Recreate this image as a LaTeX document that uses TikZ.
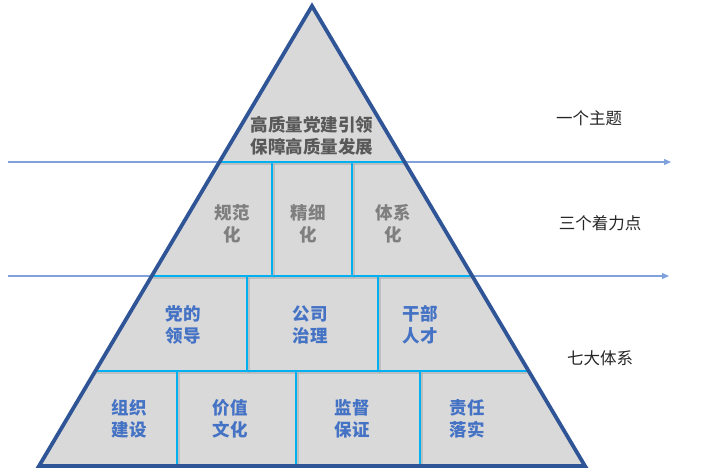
\documentclass[tikz,border=0pt]{standalone}
\usepackage{fontspec}
\newfontfamily\cjk{Noto Sans CJK SC}
\usetikzlibrary{arrows.meta}
\definecolor{trifill}{HTML}{D9D9D9}
\definecolor{edgec}{HTML}{2F5597}
\definecolor{divc}{HTML}{00B0F0}
\definecolor{arrc}{HTML}{7FA2DD}
\definecolor{toptxt}{HTML}{595959}
\definecolor{midtxt}{HTML}{7F7F7F}
\definecolor{lowtxt}{HTML}{4472C4}
\begin{document}
\begin{tikzpicture}[x=1pt,y=-1pt,
  cell/.style={font=\cjk\bfseries\fontsize{17.5}{22}\selectfont, align=center, inner sep=0pt},
  toplabel/.style={cell, text=toptxt},
  midlabel/.style={cell, text=midtxt},
  lowlabel/.style={cell, text=lowtxt},
  sidelabel/.style={font=\cjk\fontsize{16.5}{20}\selectfont, text=black!85, inner sep=0pt},
  divline/.style={draw=divc, line width=2.6pt},
  divshadow/.style={draw=black!35, line width=2pt, opacity=0.5},
  arrline/.style={draw=arrc, line width=1.2pt, -{Triangle[length=7pt,width=6pt]}}
]
\useasboundingbox (0,0) rectangle (725,476);

% arrows (behind the pyramid)
\coordinate (a1s) at (8,162);
\coordinate (a1e) at (671,162);
\coordinate (a2s) at (8,276);
\coordinate (a2e) at (669,276);
\draw[arrline] (a1s) -- (a1e);
\draw[arrline] (a2s) -- (a2e);

% pyramid
\coordinate (A) at (312,6);
\coordinate (BL) at (39,466);
\coordinate (BR) at (585,466);
\fill[trifill] (A) -- (BR) -- (BL) -- cycle;

% shadows of dividers
\draw[divshadow] (220,164) -- (404,164);
\draw[divshadow] (153,278) -- (471,278);
\draw[divshadow] (97,373) -- (527,373);
\draw[divshadow] (274,164) -- (274,278);
\draw[divshadow] (354,164) -- (354,278);
\draw[divshadow] (249,278) -- (249,373);
\draw[divshadow] (380,278) -- (380,373);
\draw[divshadow] (179,373) -- (179,466);
\draw[divshadow] (298,373) -- (298,466);
\draw[divshadow] (422,373) -- (422,466);

% horizontal dividers
\draw[divline] (220,162) -- (404,162);
\draw[divline] (152,276) -- (472,276);
\draw[divline] (96,371) -- (528,371);
% vertical dividers
\draw[divline] (272,162) -- (272,276);
\draw[divline] (352,162) -- (352,276);
\draw[divline] (247,276) -- (247,371);
\draw[divline] (378,276) -- (378,371);
\draw[divline] (177,371) -- (177,466);
\draw[divline] (296,371) -- (296,466);
\draw[divline] (420,371) -- (420,466);

% outline
\draw[edgec, line width=3.8pt, line join=miter] (A) -- (BR) -- (BL) -- cycle;

% texts
\node[toplabel] (t0) at (312,136) {高质量党建引领\\保障高质量发展};
\node[midlabel] (m1) at (232,224) {规范\\化};
\node[midlabel] (m2) at (308,224) {精细\\化};
\node[midlabel] (m3) at (393,224) {体系\\化};
\node[lowlabel] (r1) at (183,325) {党的\\领导};
\node[lowlabel] (r2) at (310,325) {公司\\治理};
\node[lowlabel] (r3) at (420,325) {干部\\人才};
\node[lowlabel] (b1) at (129,419) {组织\\建设};
\node[lowlabel] (b2) at (230,419) {价值\\文化};
\node[lowlabel] (b3) at (352,419) {监督\\保证};
\node[lowlabel] (b4) at (467,419) {责任\\落实};

\node[sidelabel] (s1) at (589,118) {一个主题};
\node[sidelabel] (s2) at (600,223) {三个着力点};
\node[sidelabel] (s3) at (600,358) {七大体系};
\end{tikzpicture}
\end{document}
